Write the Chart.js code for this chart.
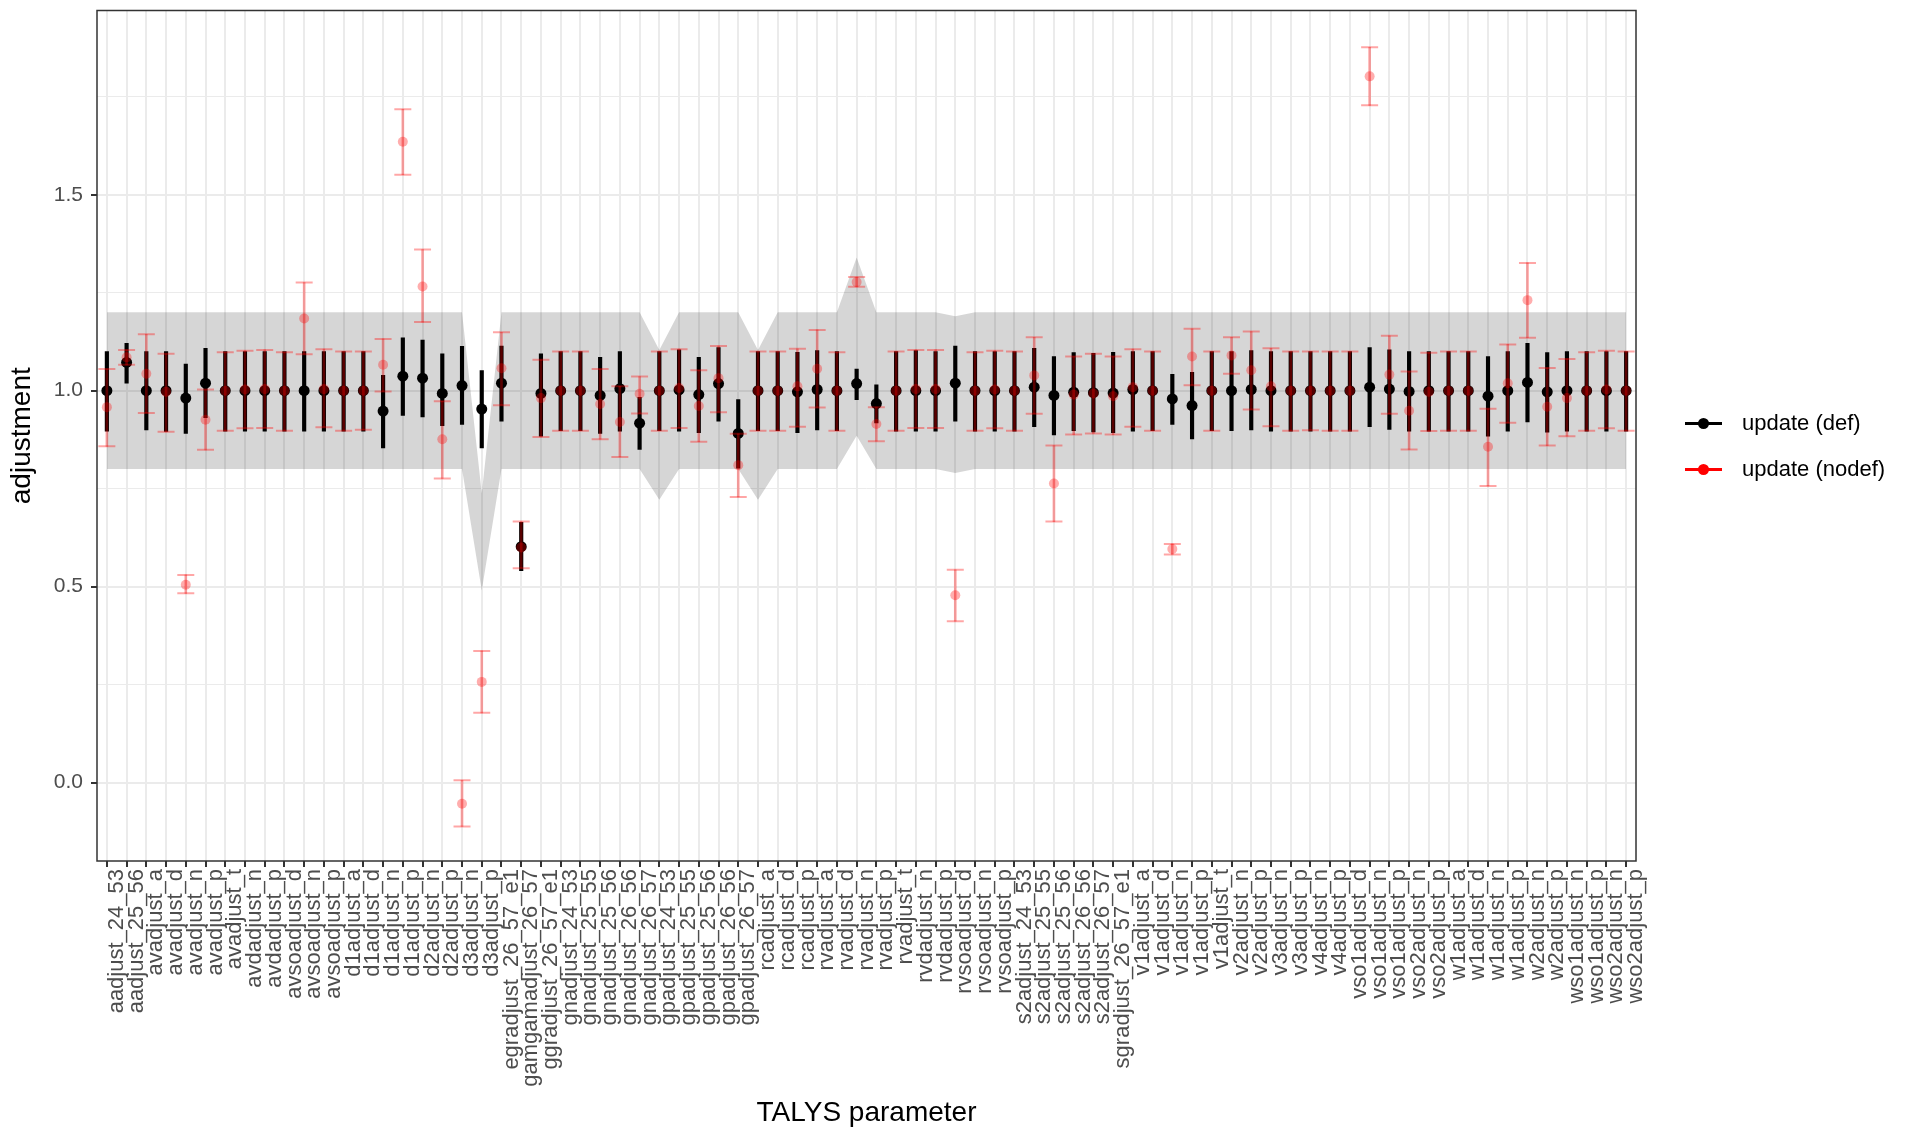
<!DOCTYPE html>
<html>
<head>
<meta charset="utf-8">
<script src="https://cdn.jsdelivr.net/npm/chart.js@4"></script>
<style>
  body { margin: 0; background: #fff; }
  #wrap { position: relative; width: 1907px; height: 1130px; }
  #legend { position: absolute; left: 1685px; top: 405px; font-family: 'Liberation Sans', Arial, sans-serif; font-size: 22px; color: #000; }
  .item { position: relative; height: 46px; line-height: 36px; padding-left: 57px; }
  .key { position: absolute; left: 0; top: 17px; width: 37px; height: 3px; }
  .dot { position: absolute; left: 13px; top: -4px; width: 11px; height: 11px; border-radius: 50%; }
</style>
</head>
<body>
<div id="wrap">
  <canvas id="adjChart" width="1907" height="1130"></canvas>
  <div id="legend"></div>
</div>
<script>
"use strict";

// DATA -----------------------
const categories = [
  "aadjust_24_53", "aadjust_25_56", "avadjust_a", "avadjust_d", "avadjust_n", "avadjust_p", "avadjust_t",
  "avdadjust_n", "avdadjust_p", "avsoadjust_d", "avsoadjust_n", "avsoadjust_p",
  "d1adjust_a", "d1adjust_d", "d1adjust_n", "d1adjust_p", "d2adjust_n", "d2adjust_p", "d3adjust_n", "d3adjust_p",
  "egradjust_26_57_e1", "gamgamadjust_26_57", "ggradjust_26_57_e1",
  "gnadjust_24_53", "gnadjust_25_55", "gnadjust_25_56", "gnadjust_26_56", "gnadjust_26_57",
  "gpadjust_24_53", "gpadjust_25_55", "gpadjust_25_56", "gpadjust_26_56", "gpadjust_26_57",
  "rcadjust_a", "rcadjust_d", "rcadjust_p", "rvadjust_a", "rvadjust_d", "rvadjust_n", "rvadjust_p", "rvadjust_t",
  "rvdadjust_n", "rvdadjust_p", "rvsoadjust_d", "rvsoadjust_n", "rvsoadjust_p",
  "s2adjust_24_53", "s2adjust_25_55", "s2adjust_25_56", "s2adjust_26_56", "s2adjust_26_57", "sgradjust_26_57_e1",
  "v1adjust_a", "v1adjust_d", "v1adjust_n", "v1adjust_p", "v1adjust_t", "v2adjust_n", "v2adjust_p",
  "v3adjust_n", "v3adjust_p", "v4adjust_n", "v4adjust_p",
  "vso1adjust_d", "vso1adjust_n", "vso1adjust_p", "vso2adjust_n", "vso2adjust_p",
  "w1adjust_a", "w1adjust_d", "w1adjust_n", "w1adjust_p", "w2adjust_n", "w2adjust_p",
  "wso1adjust_n", "wso1adjust_p", "wso2adjust_n", "wso2adjust_p"
];

// update (def): black point ranges
const defValue = [
  1.0, 1.072, 1.0, 1.0, 0.981, 1.019, 1.0, 1.0, 1.0, 1.0, 1.0, 1.0,
  1.0, 1.0, 0.948, 1.037, 1.032, 0.993, 1.013, 0.953,
  1.019, 0.602, 0.993, 1.0, 1.0, 0.988, 1.005, 0.917,
  1.0, 1.002, 0.99, 1.018, 0.891,
  1.0, 1.0, 0.997, 1.003, 1.0, 1.018, 0.967, 1.0,
  1.0, 1.0, 1.019, 1.0, 1.0,
  1.0, 1.009, 0.988, 0.996, 0.995, 0.994,
  1.003, 1.0, 0.979, 0.962, 1.0, 1.0, 1.003,
  1.0, 1.0, 1.0, 1.0,
  1.0, 1.009, 1.004, 0.998, 1.0,
  1.0, 1.0, 0.986, 1.0, 1.021, 0.997,
  1.0, 1.0, 1.0, 1.0
];
const defLow = [
  0.897, 1.019, 0.9, 0.896, 0.891, 0.931, 0.897, 0.897, 0.897, 0.897, 0.897, 0.897,
  0.897, 0.897, 0.854, 0.937, 0.933, 0.911, 0.914, 0.854,
  0.922, 0.541, 0.884, 0.898, 0.898, 0.891, 0.897, 0.85,
  0.898, 0.897, 0.893, 0.922, 0.802,
  0.898, 0.898, 0.893, 0.9, 0.898, 0.977, 0.918, 0.897,
  0.897, 0.897, 0.922, 0.897, 0.897,
  0.897, 0.908, 0.887, 0.898, 0.895, 0.893,
  0.897, 0.898, 0.914, 0.877, 0.898, 0.898, 0.9,
  0.897, 0.897, 0.897, 0.897,
  0.897, 0.908, 0.901, 0.897, 0.897,
  0.897, 0.897, 0.884, 0.897, 0.92, 0.894,
  0.897, 0.897, 0.897, 0.897
];
const defHigh = [
  1.1, 1.121, 1.1, 1.1, 1.068, 1.108, 1.1, 1.1, 1.1, 1.1, 1.1, 1.1,
  1.1, 1.1, 1.039, 1.135, 1.129, 1.094, 1.113, 1.051,
  1.114, 0.664, 1.094, 1.1, 1.1, 1.085, 1.1, 0.983,
  1.1, 1.104, 1.085, 1.11, 0.977,
  1.1, 1.1, 1.098, 1.102, 1.1, 1.055, 1.015, 1.1,
  1.102, 1.1, 1.114, 1.1, 1.1,
  1.1, 1.108, 1.087, 1.097, 1.095, 1.098,
  1.1, 1.1, 1.042, 1.047, 1.1, 1.1, 1.102,
  1.1, 1.1, 1.1, 1.1,
  1.1, 1.11, 1.104, 1.1, 1.1,
  1.1, 1.1, 1.087, 1.1, 1.121, 1.097,
  1.1, 1.1, 1.1, 1.1
];

// update (nodef): red error bars
const nodefValue = [
  0.958, 1.085, 1.043, 0.997, 0.505, 0.926, 1.0, 1.003, 1.004, 1.0, 1.184, 1.004,
  1.0, 1.0, 1.066, 1.635, 1.266, 0.876, -0.054, 0.257,
  1.057, 0.6, 0.981, 1.0, 1.0, 0.966, 0.92, 0.992,
  1.0, 1.007, 0.961, 1.032, 0.81,
  1.0, 1.0, 1.011, 1.056, 1.0, 1.277, 0.915, 1.0,
  1.004, 1.004, 0.478, 1.0, 1.003,
  1.0, 1.039, 0.763, 0.99, 0.993, 0.986,
  1.009, 1.0, 0.596, 1.087, 1.0, 1.09, 1.052,
  1.011, 1.0, 1.0, 1.0,
  1.0, 1.802, 1.041, 0.949, 0.997,
  1.0, 1.0, 0.857, 1.019, 1.231, 0.959,
  0.981, 1.0, 1.003, 1.0
];
const nodefLow = [
  0.858, 1.066, 0.943, 0.895, 0.483, 0.849, 0.898, 0.904, 0.905, 0.898, 1.093, 0.907,
  0.898, 0.9, 0.998, 1.551, 1.175, 0.776, -0.112, 0.178,
  0.963, 0.547, 0.882, 0.898, 0.898, 0.876, 0.831, 0.942,
  0.898, 0.905, 0.87, 0.945, 0.729,
  0.898, 0.898, 0.908, 0.957, 0.898, 1.265, 0.871, 0.898,
  0.905, 0.905, 0.412, 0.898, 0.904,
  0.898, 0.941, 0.666, 0.888, 0.891, 0.888,
  0.908, 0.898, 0.582, 1.014, 0.898, 1.043, 0.952,
  0.909, 0.898, 0.899, 0.898,
  0.898, 1.728, 0.941, 0.85, 0.897,
  0.898, 0.898, 0.757, 0.918, 1.135, 0.86,
  0.884, 0.898, 0.904, 0.898
];
const nodefHigh = [
  1.055, 1.104, 1.144, 1.094, 0.53, 1.003, 1.098, 1.102, 1.104, 1.098, 1.276, 1.106,
  1.1, 1.1, 1.132, 1.718, 1.36, 0.973, 0.006, 0.336,
  1.149, 0.666, 1.079, 1.1, 1.1, 1.055, 1.011, 1.036,
  1.1, 1.106, 1.052, 1.114, 0.89,
  1.1, 1.1, 1.107, 1.155, 1.098, 1.29, 0.958, 1.1,
  1.104, 1.104, 0.543, 1.098, 1.102,
  1.1, 1.136, 0.86, 1.087, 1.094, 1.087,
  1.106, 1.1, 0.609, 1.158, 1.1, 1.136, 1.151,
  1.108, 1.1, 1.1, 1.1,
  1.1, 1.876, 1.14, 1.049, 1.097,
  1.1, 1.1, 0.954, 1.118, 1.326, 1.058,
  1.081, 1.098, 1.102, 1.1
];

// grey prior band
const priorLow = [
  0.8, 0.8, 0.8, 0.8, 0.8, 0.8, 0.8, 0.8, 0.8, 0.8, 0.8, 0.8,
  0.8, 0.8, 0.8, 0.8, 0.8, 0.8, 0.8, 0.49,
  0.8, 0.8, 0.8, 0.8, 0.8, 0.8, 0.8, 0.8,
  0.722, 0.8, 0.8, 0.8, 0.8,
  0.722, 0.8, 0.8, 0.8, 0.8, 0.885, 0.8, 0.8,
  0.8, 0.8, 0.79, 0.8, 0.8,
  0.8, 0.8, 0.8, 0.8, 0.8, 0.8,
  0.8, 0.8, 0.8, 0.8, 0.8, 0.8, 0.8,
  0.8, 0.8, 0.8, 0.8,
  0.8, 0.8, 0.8, 0.8, 0.8,
  0.8, 0.8, 0.8, 0.8, 0.8, 0.8,
  0.8, 0.8, 0.8, 0.8
];
const priorHigh = [
  1.2, 1.2, 1.2, 1.2, 1.2, 1.2, 1.2, 1.2, 1.2, 1.2, 1.2, 1.2,
  1.2, 1.2, 1.2, 1.2, 1.2, 1.2, 1.2, 0.738,
  1.2, 1.2, 1.2, 1.2, 1.2, 1.2, 1.2, 1.2,
  1.104, 1.2, 1.2, 1.2, 1.2,
  1.104, 1.2, 1.2, 1.2, 1.2, 1.34, 1.2, 1.2,
  1.2, 1.2, 1.19, 1.2, 1.2,
  1.2, 1.2, 1.2, 1.2, 1.2, 1.2,
  1.2, 1.2, 1.2, 1.2, 1.2, 1.2, 1.2,
  1.2, 1.2, 1.2, 1.2,
  1.2, 1.2, 1.2, 1.2, 1.2,
  1.2, 1.2, 1.2, 1.2, 1.2, 1.2,
  1.2, 1.2, 1.2, 1.2
];

const yMajorTicks = [0, 0.5, 1.0, 1.5];
const yMinorTicks = [0.25, 0.75, 1.25, 1.75];

const legendItems = [
  { label: "update (def)", color: "#000000" },
  { label: "update (nodef)", color: "#ff0000" }
];

// SETTINGS -----------------------
const FONT = "'Liberation Sans', Arial, sans-serif";
const RED_FAINT = 'rgba(255, 0, 0, 0.35)';
Chart.defaults.font.family = FONT;

const isMajor = v => yMajorTicks.includes(v);

// frame around the panel, like theme_bw
const panelBorder = {
  id: 'panelBorder',
  afterDraw(chart) {
    const { ctx, chartArea: a } = chart;
    ctx.save();
    ctx.strokeStyle = '#333333';
    ctx.lineWidth = 1.5;
    ctx.strokeRect(a.left, a.top, a.width, a.height);
    ctx.restore();
  }
};

const pairs = (lo, hi) => lo.map((v, i) => [v, hi[i]]);

new Chart(document.getElementById('adjChart').getContext('2d'), {
  type: 'bar',
  data: {
    labels: categories,
    datasets: [
      { type: 'line', data: priorLow, borderWidth: 0, pointRadius: 0, fill: false, order: 10 },
      { type: 'line', data: priorHigh, borderWidth: 0, pointRadius: 0, fill: '-1',
        backgroundColor: 'rgba(0, 0, 0, 0.16)', order: 9 },
      { type: 'bar', data: pairs(defLow, defHigh), backgroundColor: '#000000',
        barThickness: 3.5, grouped: false, borderWidth: 0, order: 6 },
      { type: 'line', data: defValue, showLine: false, pointRadius: 5.5,
        pointBackgroundColor: '#000000', pointBorderWidth: 0, order: 5 },
      { type: 'bar', data: pairs(nodefLow, nodefHigh), backgroundColor: RED_FAINT,
        barThickness: 2, grouped: false, borderWidth: 0, order: 4 },
      { type: 'line', data: nodefLow, showLine: false, pointStyle: 'line', pointRadius: 8.5,
        pointBorderColor: RED_FAINT, pointBorderWidth: 2, order: 3 },
      { type: 'line', data: nodefHigh, showLine: false, pointStyle: 'line', pointRadius: 8.5,
        pointBorderColor: RED_FAINT, pointBorderWidth: 2, order: 2 },
      { type: 'line', data: nodefValue, showLine: false, pointRadius: 5,
        pointBackgroundColor: 'rgba(255, 0, 0, 0.32)', pointBorderWidth: 0, order: 1 }
    ]
  },
  options: {
    responsive: false,
    devicePixelRatio: 1,
    animation: false,
    layout: { padding: { top: 6, right: 271, bottom: 0, left: 0 } },
    plugins: { legend: { display: false }, tooltip: { enabled: false } },
    scales: {
      x: {
        type: 'category',
        offset: true,
        border: { display: false },
        grid: { offset: false, color: '#ebebeb', lineWidth: 2, tickColor: '#333333', tickLength: 6 },
        ticks: {
          autoSkip: false, maxRotation: 90, minRotation: 90, padding: 2, labelOffset: 10,
          color: '#4d4d4d', font: { size: 22 }
        },
        title: { display: true, text: 'TALYS parameter', color: '#000000', font: { size: 28 }, padding: 0 },
        afterFit: s => { s.height = 269; s.paddingLeft = 0; s.paddingRight = 0; }
      },
      y: {
        min: -0.2,
        max: 1.97,
        border: { display: false },
        afterBuildTicks: s => {
          s.ticks = yMajorTicks.concat(yMinorTicks).sort((a, b) => a - b).map(v => ({ value: v }));
        },
        grid: {
          color: '#ebebeb',
          lineWidth: c => isMajor(c.tick.value) ? 2 : 1,
          tickColor: c => isMajor(c.tick.value) ? '#333333' : 'rgba(0,0,0,0)',
          tickLength: 6
        },
        ticks: {
          padding: 8, color: '#4d4d4d', font: { size: 21 },
          callback: v => isMajor(v) ? v.toFixed(1) : ''
        },
        title: { display: true, text: 'adjustment', color: '#000000', font: { size: 28 }, padding: { top: 5, bottom: 0 } },
        afterFit: s => { s.width = 97; s.paddingTop = 0; s.paddingBottom = 0; }
      }
    }
  },
  plugins: [panelBorder]
});

// legend: line with a dot, as in a pointrange key
const legendBox = document.getElementById('legend');
legendItems.forEach(item => {
  const row = document.createElement('div');
  row.className = 'item';
  row.innerHTML = `<span class="key" style="background:${item.color}"><span class="dot" style="background:${item.color}"></span></span>${item.label}`;
  legendBox.appendChild(row);
});
</script>
</body>
</html>
